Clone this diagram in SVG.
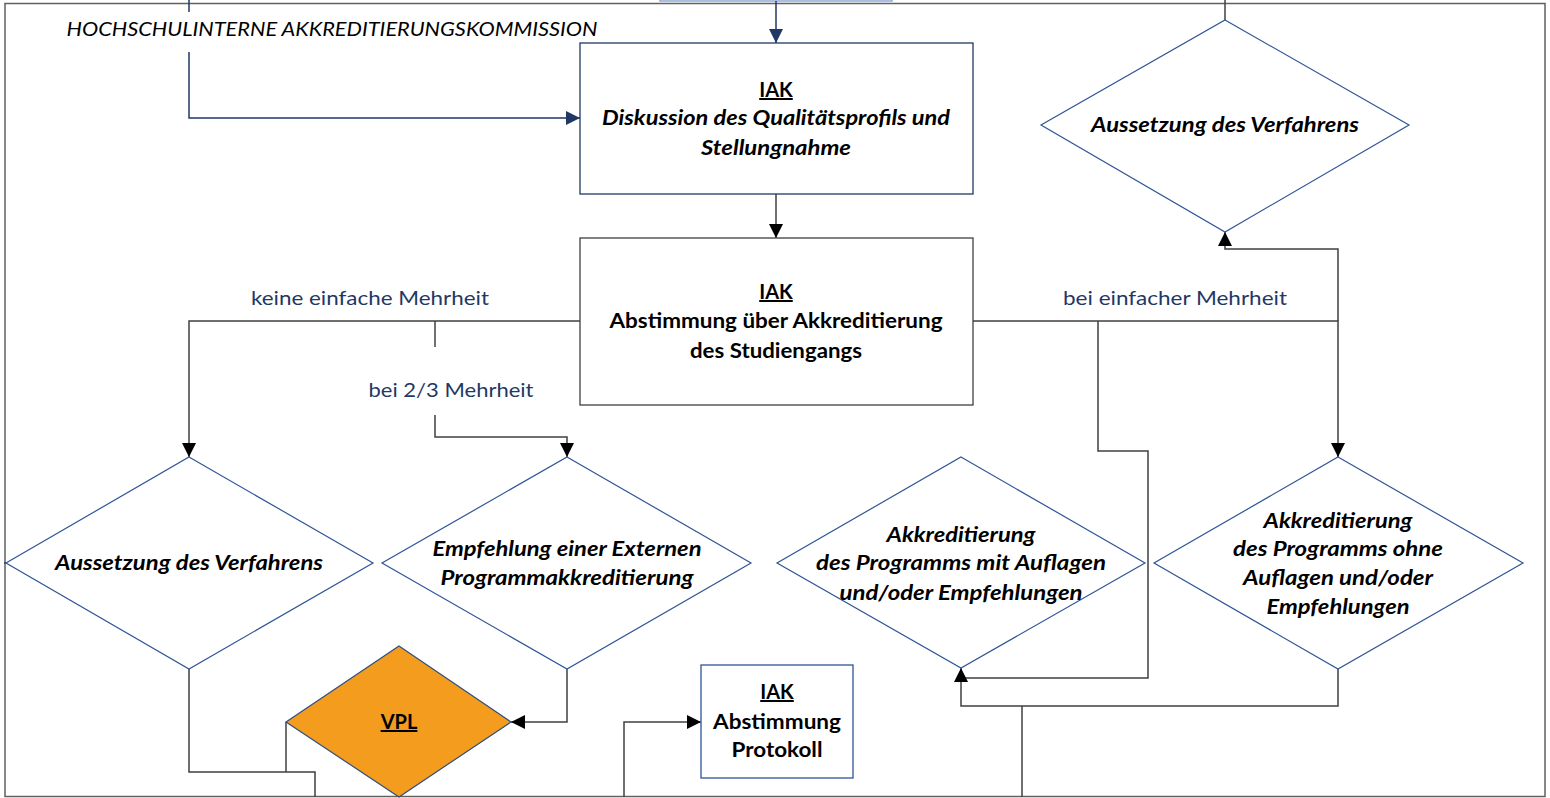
<svg xmlns="http://www.w3.org/2000/svg" width="1550" height="798" viewBox="0 0 1550 798">
<style>
  .t { font-family: Lato, "Liberation Sans", sans-serif; font-size: 20px; fill: #000; text-anchor: middle; }
  .b { font-weight: bold; }
  .i { font-style: italic; }
  .u { text-decoration: underline; }
  .lbl { font-family: Lato, "Liberation Sans", sans-serif; font-size: 20px; fill: #1F3864; text-anchor: middle; }
  .dia { fill: #fff; stroke: #2F5597; stroke-width: 1.2; }
  .box { fill: #fff; stroke-width: 1.3; }
  .c { fill: none; stroke: #404040; stroke-width: 1.5; }
  .cn { fill: none; stroke: #1F3864; stroke-width: 1.5; }
</style>
<defs>
  <marker id="ah" markerUnits="userSpaceOnUse" markerWidth="16" markerHeight="16" refX="14" refY="8" orient="auto">
    <path d="M0,1 L14,8 L0,15 z" fill="#000"/>
  </marker>
  <marker id="ahn" markerUnits="userSpaceOnUse" markerWidth="16" markerHeight="16" refX="14" refY="8" orient="auto">
    <path d="M0,1 L14,8 L0,15 z" fill="#1F3864"/>
  </marker>
</defs>
<rect x="0" y="0" width="1550" height="798" fill="#fff"/>
<rect id="frame" x="5" y="3.5" width="1540" height="793" fill="none" stroke="#606060" stroke-width="1.5"/>
<rect id="top-box" x="660" y="-60" width="232" height="61" fill="#fff" stroke="#8EA9DB" stroke-width="1.5"/>

<g id="connectors">
  <path class="cn" d="M776,1 L776,43" marker-end="url(#ahn)"/>
  <path class="cn" d="M189,0 L189,12"/>
  <path class="cn" d="M189,52 L189,118 L580,118" marker-end="url(#ahn)"/>
  <path class="c" d="M776,194 L776,238" marker-end="url(#ah)"/>
  <path class="c" d="M580,321 L189,321 L189,457" marker-end="url(#ah)"/>
  <path class="c" d="M435,321 L435,347"/>
  <path class="c" d="M435,415 L435,437 L567,437 L567,457" marker-end="url(#ah)"/>
  <path class="c" d="M973,321 L1338,321 L1338,457" marker-end="url(#ah)"/>
  <path class="c" d="M1338,321 L1338,249 L1225,249 L1225,232" marker-end="url(#ah)"/>
  <path class="c" d="M1098,321 L1098,451 L1148,451 L1148,678 L961,678 L961,668" marker-end="url(#ah)"/>
  <path class="c" d="M1225,0 L1225,20"/>
  <path class="c" d="M567,669 L567,722 L511,722" marker-end="url(#ah)"/>
  <path class="c" d="M189,669 L189,772 L315,772 L315,797"/>
  <path class="c" d="M286,722 L286,772"/>
  <path class="c" d="M624,797 L624,722 L701,722" marker-end="url(#ah)"/>
  <path class="c" d="M1338,669 L1338,706 L961,706 L961,682"/>
  <path class="c" d="M1022,706 L1022,797"/>
  <path class="c" d="M4,563 L6,563"/>
</g>

<g id="label-hak">
  <text class="t i" x="332" y="36" textLength="531" lengthAdjust="spacingAndGlyphs">HOCHSCHULINTERNE AKKREDITIERUNGSKOMMISSION</text>
</g>

<g id="box-diskussion">
  <rect class="box" x="580" y="43" width="393" height="151" stroke="#1F3864"/>
  <text class="t b u" x="776" y="97">IAK</text>
  <text class="t b i" x="776" y="125" textLength="348" lengthAdjust="spacingAndGlyphs">Diskussion des Qualitätsprofils und</text>
  <text class="t b i" x="776" y="155" textLength="150" lengthAdjust="spacingAndGlyphs">Stellungnahme</text>
</g>

<g id="box-abstimmung">
  <rect class="box" x="580" y="238" width="393" height="167" stroke="#404040"/>
  <text class="t b u" x="776" y="299">IAK</text>
  <text class="t b" x="776" y="328" textLength="333" lengthAdjust="spacingAndGlyphs">Abstimmung über Akkreditierung</text>
  <text class="t b" x="776" y="358" textLength="172" lengthAdjust="spacingAndGlyphs">des Studiengangs</text>
</g>

<g id="labels">
  <text class="lbl" x="370" y="305" textLength="238" lengthAdjust="spacingAndGlyphs">keine einfache Mehrheit</text>
  <text class="lbl" x="451" y="397" textLength="165" lengthAdjust="spacingAndGlyphs">bei 2/3 Mehrheit</text>
  <text class="lbl" x="1175" y="305" textLength="224" lengthAdjust="spacingAndGlyphs">bei einfacher Mehrheit</text>
</g>

<g id="dia-aussetzung-top">
  <polygon class="dia" points="1225,20 1409,125 1225,232 1041,125"/>
  <text class="t b i" x="1225" y="132" textLength="268" lengthAdjust="spacingAndGlyphs">Aussetzung des Verfahrens</text>
</g>

<g id="dia-aussetzung-left">
  <polygon class="dia" points="189,457 373,563 189,669 6,563"/>
  <text class="t b i" x="189" y="570" textLength="268" lengthAdjust="spacingAndGlyphs">Aussetzung des Verfahrens</text>
</g>

<g id="dia-empfehlung">
  <polygon class="dia" points="567,457 751,563 567,669 382,563"/>
  <text class="t b i" x="567" y="556" textLength="269" lengthAdjust="spacingAndGlyphs">Empfehlung einer Externen</text>
  <text class="t b i" x="567" y="585" textLength="253" lengthAdjust="spacingAndGlyphs">Programmakkreditierung</text>
</g>

<g id="dia-mit-auflagen">
  <polygon class="dia" points="961,457 1145,563 961,668 777,563"/>
  <text class="t b i" x="961" y="542" textLength="149" lengthAdjust="spacingAndGlyphs">Akkreditierung</text>
  <text class="t b i" x="961" y="570" textLength="290" lengthAdjust="spacingAndGlyphs">des Programms mit Auflagen</text>
  <text class="t b i" x="961" y="600" textLength="243" lengthAdjust="spacingAndGlyphs">und/oder Empfehlungen</text>
</g>

<g id="dia-ohne-auflagen">
  <polygon class="dia" points="1338,457 1523,563 1338,669 1154,563"/>
  <text class="t b i" x="1338" y="528" textLength="149" lengthAdjust="spacingAndGlyphs">Akkreditierung</text>
  <text class="t b i" x="1338" y="556" textLength="210" lengthAdjust="spacingAndGlyphs">des Programms ohne</text>
  <text class="t b i" x="1338" y="585" textLength="190" lengthAdjust="spacingAndGlyphs">Auflagen und/oder</text>
  <text class="t b i" x="1338" y="614" textLength="143" lengthAdjust="spacingAndGlyphs">Empfehlungen</text>
</g>

<g id="dia-vpl">
  <polygon points="399,646 511,722 399,797 286,722" fill="#F39C1E" stroke="#2F4F7F" stroke-width="1.2"/>
  <text class="t b u" x="399" y="729">VPL</text>
</g>

<g id="box-protokoll">
  <rect class="box" x="701" y="665" width="152" height="113" stroke="#2F5597"/>
  <text class="t b u" x="777" y="699">IAK</text>
  <text class="t b" x="777" y="729" textLength="128" lengthAdjust="spacingAndGlyphs">Abstimmung</text>
  <text class="t b" x="777" y="757" textLength="91" lengthAdjust="spacingAndGlyphs">Protokoll</text>
</g>
</svg>
